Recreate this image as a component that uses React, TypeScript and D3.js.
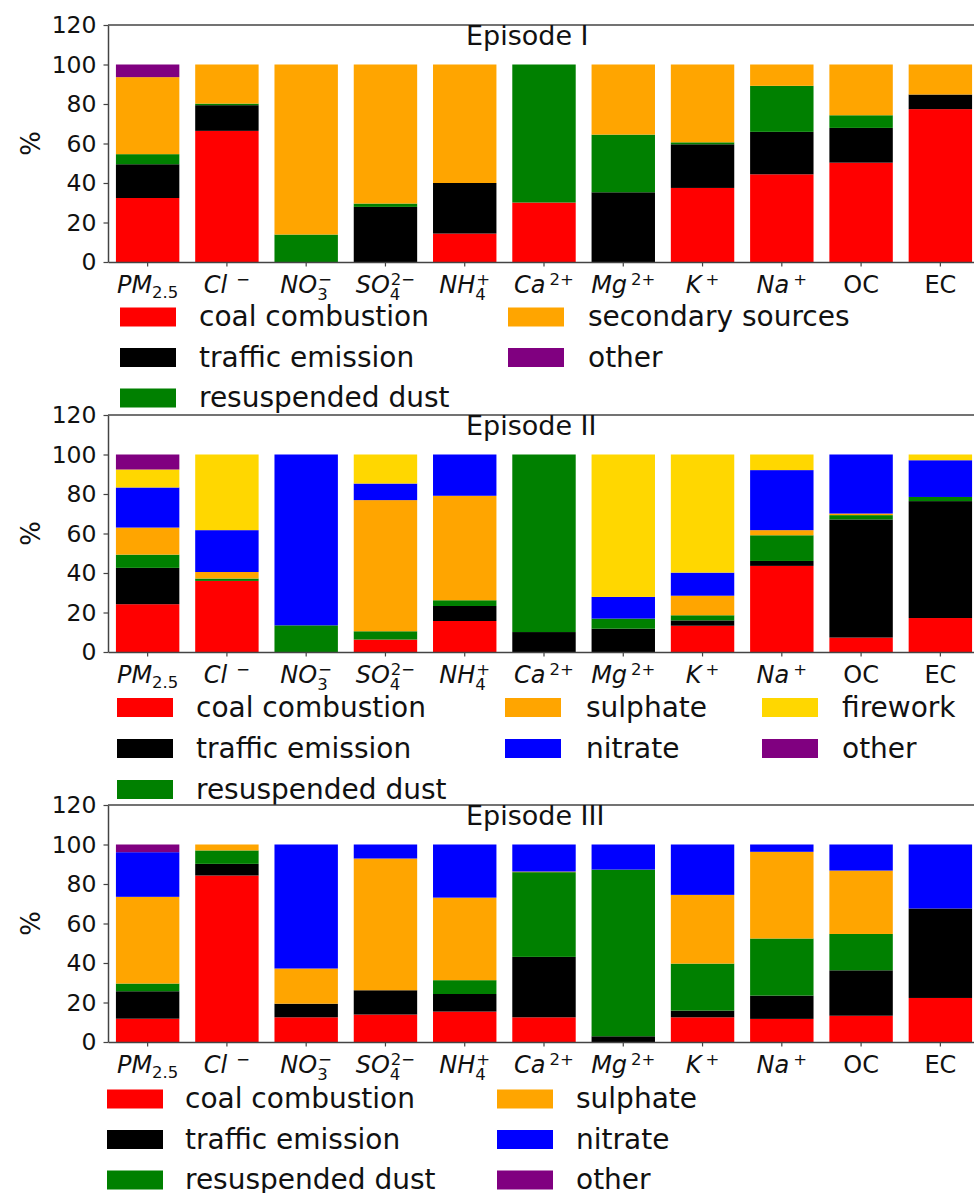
import React, { useEffect, useRef } from 'react';
import * as d3 from 'd3';

// x categories (species)
const species = ['PM2.5', 'Cl-', 'NO3-', 'SO42-', 'NH4+', 'Ca2+', 'Mg2+', 'K+', 'Na+', 'OC', 'EC'];

// tick label pieces: n = italic, r = upright, b = subscript, p = superscript, q = superscript stacked over the subscript
const tickLabels: [string, string][][] = [
  [['PM', 'n'], ['2.5', 'b']],
  [['Cl', 'n'], ['\u2212', 'p']],
  [['NO', 'n'], ['3', 'b'], ['\u2212', 'q']],
  [['SO', 'n'], ['4', 'b'], ['2\u2212', 'q']],
  [['NH', 'n'], ['4', 'b'], ['+', 'q']],
  [['Ca', 'n'], ['2+', 'p']],
  [['Mg', 'n'], ['2+', 'p']],
  [['K', 'n'], ['+', 'p']],
  [['Na', 'n'], ['+', 'p']],
  [['OC', 'r']],
  [['EC', 'r']],
];

const yTicks = [0, 20, 40, 60, 80, 100, 120];

const sourceColors: Record<string, string> = {
  'coal combustion': '#ff0000',
  'traffic emission': '#000000',
  'resuspended dust': '#008000',
  'secondary sources': '#ffa500',
  'sulphate': '#ffa500',
  'nitrate': '#0000ff',
  'firework': '#ffd700',
  'other': '#800080',
};

// Episode I
const ep1Sources = ['coal combustion', 'traffic emission', 'resuspended dust', 'secondary sources', 'other'];
const ep1Coal = [32.4, 66.4, 0, 0, 14.4, 30.1, 0, 37.5, 44.4, 50.3, 77.4];
const ep1Traffic = [17.1, 13.0, 0, 27.9, 25.6, 0, 35.3, 22.1, 21.5, 17.6, 7.4];
const ep1Dust = [5.1, 0.8, 13.9, 1.7, 0, 69.9, 29.2, 1.0, 23.3, 6.4, 0];
const ep1Secondary = [39.0, 19.8, 86.1, 70.4, 60.0, 0, 35.5, 39.4, 10.8, 25.7, 15.2];
const ep1Other = [6.4, 0, 0, 0, 0, 0, 0, 0, 0, 0, 0];

// Episode II
const ep2Sources = ['coal combustion', 'traffic emission', 'resuspended dust', 'sulphate', 'nitrate', 'firework', 'other'];
const ep2Coal = [24.2, 36.0, 0, 6.3, 15.7, 0, 0, 13.3, 43.6, 7.3, 17.2];
const ep2Traffic = [18.4, 0, 0, 0, 7.6, 10.1, 11.8, 2.7, 2.5, 59.8, 59.2];
const ep2Dust = [6.7, 1.2, 13.5, 4.2, 2.9, 89.9, 5.1, 2.6, 13.0, 2.2, 2.1];
const ep2Sulphate = [13.7, 3.3, 0, 66.4, 52.9, 0, 0, 9.9, 2.6, 0.8, 0];
const ep2Nitrate = [20.3, 21.2, 86.5, 8.4, 20.9, 0, 11.0, 11.7, 30.4, 29.9, 18.6];
const ep2Firework = [9.1, 38.3, 0, 14.7, 0, 0, 72.1, 59.8, 7.9, 0, 2.9];
const ep2Other = [7.6, 0, 0, 0, 0, 0, 0, 0, 0, 0, 0];

// Episode III
const ep3Sources = ['coal combustion', 'traffic emission', 'resuspended dust', 'sulphate', 'nitrate', 'other'];
const ep3Coal = [11.8, 84.3, 12.5, 13.9, 15.4, 12.5, 0, 12.5, 11.7, 13.3, 22.3];
const ep3Traffic = [13.9, 5.9, 6.9, 12.3, 8.9, 30.6, 2.9, 3.4, 11.8, 23.0, 45.3];
const ep3Dust = [3.9, 6.8, 0, 0, 7.0, 42.9, 84.4, 23.8, 28.9, 18.4, 0];
const ep3Sulphate = [43.9, 3.0, 17.8, 66.7, 41.8, 0.3, 0, 34.8, 43.9, 32.1, 0];
const ep3Nitrate = [22.6, 0, 62.8, 7.1, 26.9, 13.7, 12.7, 25.5, 3.7, 13.2, 32.4];
const ep3Other = [3.9, 0, 0, 0, 0, 0, 0, 0, 0, 0, 0];

const episodes = [
  {
    title: 'Episode I', top: 25, sources: ep1Sources,
    values: [ep1Coal, ep1Traffic, ep1Dust, ep1Secondary, ep1Other],
    ncol: 2, patchX: [120, 508], textX: [199, 588], rowY: [317, 357.5, 398],
  },
  {
    title: 'Episode II', top: 415, sources: ep2Sources,
    values: [ep2Coal, ep2Traffic, ep2Dust, ep2Sulphate, ep2Nitrate, ep2Firework, ep2Other],
    ncol: 3, patchX: [117, 505, 762], textX: [196, 586, 842], rowY: [707.5, 748.5, 789.5],
  },
  {
    title: 'Episode III', top: 805, sources: ep3Sources,
    values: [ep3Coal, ep3Traffic, ep3Dust, ep3Sulphate, ep3Nitrate, ep3Other],
    ncol: 2, patchX: [107, 497], textX: [185, 576], rowY: [1099, 1139.5, 1180],
  },
];

const W = 974;
const H = 1193;
const FONT = "'DejaVu Sans', sans-serif";

const App: React.FC = () => {
  const svgRef = useRef<SVGSVGElement>(null);

  useEffect(() => {
    const svg = d3.select(svgRef.current);
    svg.selectAll('*').remove();

    const plotLeft = 108;
    const plotRight = 980;
    const plotH = 237;

    episodes.forEach(ep => {
      const x = d3.scaleBand()
        .domain(species)
        .range([plotLeft, plotRight])
        .paddingInner(0.2)
        .paddingOuter(0.1);

      const y = d3.scaleLinear()
        .domain([0, 120])
        .range([ep.top + plotH, ep.top]);

      const rows = species.map((s, i) => {
        const row: any = { species: s };
        ep.sources.forEach((src, j) => { row[src] = ep.values[j][i]; });
        return row;
      });

      const series = d3.stack().keys(ep.sources)(rows);

      const g = svg.append('g');

      // stacked bars
      g.selectAll('.layer')
        .data(series)
        .enter()
        .append('g')
        .attr('fill', d => sourceColors[d.key])
        .selectAll('rect')
        .data(d => d.filter(v => v[1] - v[0] > 0))
        .enter()
        .append('rect')
        .attr('x', d => x((d.data as any).species) || 0)
        .attr('y', d => y(d[1]))
        .attr('width', x.bandwidth())
        .attr('height', d => y(d[0]) - y(d[1]));

      // y axis
      const yAxis = g.append('g')
        .attr('transform', `translate(${plotLeft},0)`)
        .call(d3.axisLeft(y).tickValues(yTicks).tickSize(4.5).tickSizeOuter(0).tickPadding(7));
      yAxis.select('.domain').attr('stroke', '#444').attr('stroke-width', 1.5);
      yAxis.selectAll('.tick line').attr('stroke', '#444').attr('stroke-width', 1.2);
      yAxis.selectAll('.tick text')
        .style('font-family', FONT)
        .style('font-size', '23.5px')
        .attr('fill', '#111');

      // x axis (ticks only, labels drawn separately)
      const xAxis = g.append('g')
        .attr('transform', `translate(0,${ep.top + plotH})`)
        .call(d3.axisBottom(x).tickSize(4.5).tickSizeOuter(0).tickFormat(() => ''));
      xAxis.select('.domain').attr('stroke', '#444').attr('stroke-width', 1.5);
      xAxis.selectAll('.tick line').attr('stroke', '#444').attr('stroke-width', 1.2);

      // top spine
      g.append('line')
        .attr('x1', plotLeft).attr('x2', plotRight)
        .attr('y1', ep.top).attr('y2', ep.top)
        .attr('stroke', '#444').attr('stroke-width', 1.5);

      // x tick labels with sub/superscripts
      species.forEach((s, i) => {
        const cx = (x(s) || 0) + x.bandwidth() / 2;
        const t = g.append('text')
          .attr('x', cx)
          .attr('y', ep.top + plotH + 31)
          .attr('text-anchor', 'middle')
          .style('font-family', FONT)
          .style('font-size', '24px')
          .attr('fill', '#111');
        let shift = 0;
        let lastSubW = 0;
        tickLabels[i].forEach(([txt, kind]) => {
          const target = kind === 'b' ? (tickLabels[i].some(p => p[1] === 'q') ? 7 : 5) : (kind === 'p' || kind === 'q') ? -8 : 0;
          const ts = t.append('tspan')
            .attr('dy', target - shift)
            .text(txt);
          shift = target;
          if (kind === 'n') ts.style('font-style', 'oblique');
          if (kind === 'b' || kind === 'p' || kind === 'q') ts.style('font-size', '16.5px');
          if (kind === 'p') ts.attr('dx', txt === '\u2212' ? 9 : 4);
          if (kind === 'q') ts.attr('dx', -lastSubW + 1);
          if (kind === 'b') lastSubW = (ts.node() as SVGTextContentElement).getComputedTextLength();
        });
      });

      // y label
      g.append('text')
        .attr('transform', `translate(40,${ep.top + plotH / 2}) rotate(-90)`)
        .attr('text-anchor', 'middle')
        .style('font-family', FONT)
        .style('font-size', '26px')
        .attr('fill', '#111')
        .text('%');

      // episode title
      g.append('text')
        .attr('x', 466)
        .attr('y', ep.top + 19.5)
        .style('font-family', FONT)
        .style('font-size', '27px')
        .attr('fill', '#111')
        .text(ep.title);

      // legend, filled column by column
      const nrow = Math.ceil(ep.sources.length / ep.ncol);
      let idx = 0;
      for (let c = 0; c < ep.ncol; c++) {
        const remaining = ep.sources.length - idx;
        const colsLeft = ep.ncol - c;
        const inCol = Math.min(nrow, Math.ceil(remaining / colsLeft));
        for (let r = 0; r < inCol; r++) {
          const src = ep.sources[idx++];
          const cy = ep.rowY[r];
          g.append('rect')
            .attr('x', ep.patchX[c])
            .attr('y', cy - 9.5)
            .attr('width', 56)
            .attr('height', 19)
            .attr('fill', sourceColors[src]);
          g.append('text')
            .attr('x', ep.textX[c])
            .attr('y', cy + 9)
            .style('font-family', FONT)
            .style('font-size', '28px')
            .attr('fill', '#111')
            .text(src);
        }
      }
    });
  }, []);

  return (
    <div style={{ position: 'absolute', left: 0, top: 0, width: W, height: H, background: '#fff' }}>
      <svg ref={svgRef} width={W} height={H} style={{ display: 'block' }} />
    </div>
  );
};

export default App;
